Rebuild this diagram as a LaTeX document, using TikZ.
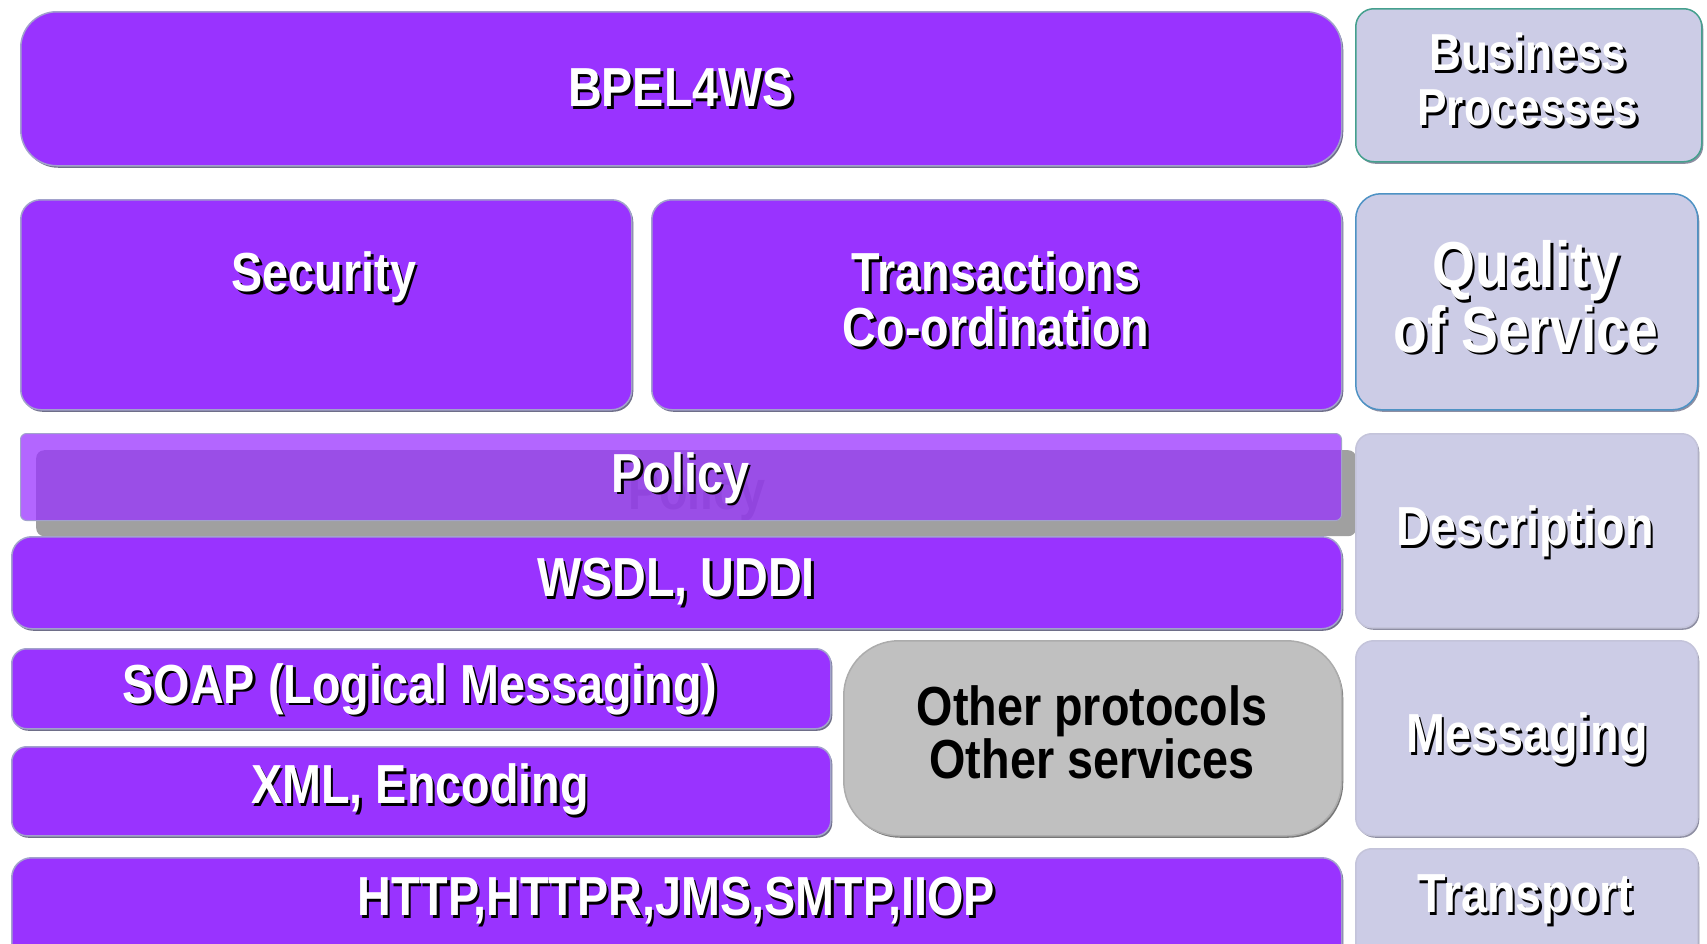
\documentclass[tikz,border=0pt]{standalone}
\usepackage{fontspec}
\newfontfamily\lblfont[FakeStretch=0.85]{Liberation Sans}
\usetikzlibrary{shadows}

\definecolor{wsviolet}{HTML}{9933FF}
\definecolor{wslav}{HTML}{CCCCE6}
\definecolor{wsgrey}{HTML}{C0C0C0}
\definecolor{wsedge}{HTML}{A2A2CC}
\definecolor{wsshade}{HTML}{6E6E88}
\definecolor{wslavedge}{HTML}{C4C4DA}
\definecolor{wslavshade}{HTML}{8E8EA2}
\definecolor{wsgreyedge}{HTML}{ACACAC}
\definecolor{wsgreyshade}{HTML}{767676}
\definecolor{wsteal}{HTML}{45A08E}
\definecolor{wsblue}{HTML}{4E92C4}
\definecolor{wsplate}{HTML}{A0A0A0}
\definecolor{wsghost}{HTML}{7C7C7C}

\tikzset{
  slab/.style={anchor=north west, inner sep=0pt, line width=1.5pt,
    draw=wsedge, fill=wsviolet,
    drop shadow={shadow xshift=1.5pt, shadow yshift=-2pt, fill=wsshade, opacity=1}},
  tagbox/.style={anchor=north west, inner sep=0pt, line width=1.5pt,
    draw=wslavedge, fill=wslav,
    drop shadow={shadow xshift=1.5pt, shadow yshift=-2pt, fill=wslavshade, opacity=1}},
  greybox/.style={anchor=north west, inner sep=0pt, line width=1.5pt,
    draw=wsgreyedge, fill=wsgrey,
    drop shadow={shadow xshift=1.5pt, shadow yshift=-2pt, fill=wsgreyshade, opacity=1}},
  word/.style={anchor=base, inner sep=0pt, text=white},
  wordshade/.style={anchor=base, inner sep=0pt, text=black, xshift=2.5pt, yshift=-2.5pt},
  darkword/.style={anchor=base, inner sep=0pt, text=black},
}

% white lettering with a black drop shadow: [size]{name}{position}{text}
\newcommand{\embossed}[4][55]{%
  \node[wordshade, font=\lblfont\bfseries\fontsize{#1}{#1}\selectfont] at (#3) {#4};
  \node[word, font=\lblfont\bfseries\fontsize{#1}{#1}\selectfont] (#2) at (#3) {#4};}

\begin{document}
\begin{tikzpicture}[x=1pt, y=-1pt]
\useasboundingbox (0,0) rectangle (1707,943);
\clip (0,0) rectangle (1707,943);

% ---- left-hand stack ----
\node[slab, rounded corners=36pt, minimum width=1321pt, minimum height=154pt] (bpelbox) at (20,11) {};
\node[slab, rounded corners=20pt, minimum width=611pt, minimum height=210pt] (secbox) at (20,199) {};
\node[slab, rounded corners=20pt, minimum width=690pt, minimum height=210pt] (txbox) at (651,199) {};

% policy layer: grey plate under a translucent violet strip
\node[anchor=north west, inner sep=0pt, fill=wsplate, rounded corners=8pt,
      minimum width=1320pt, minimum height=86pt] (policyplate) at (36,450) {};
\node[anchor=base, inner sep=0pt, text=wsghost, font=\lblfont\bfseries\fontsize{55}{55}\selectfont]
      (policyghost) at (697,509) {Policy};
\node[anchor=north west, inner sep=0pt, fill=wsviolet, fill opacity=0.75,
      draw=wsedge, line width=1pt, rounded corners=6pt,
      minimum width=1321pt, minimum height=87pt] (policybox) at (20,433) {};

\node[slab, rounded corners=20pt, minimum width=1330pt, minimum height=92pt] (wsdlbox) at (11,536) {};
\node[slab, rounded corners=15pt, minimum width=819pt, minimum height=80pt] (soapbox) at (11,648) {};
\node[slab, rounded corners=15pt, minimum width=819pt, minimum height=89pt] (xmlbox) at (11,746) {};
\node[greybox, rounded corners=55pt, minimum width=498pt, minimum height=195pt] (otherbox) at (843,640) {};
\node[slab, rounded corners=20pt, minimum width=1330pt, minimum height=120pt] (httpbox) at (11,857) {};

% ---- right-hand column ----
\node[tagbox, draw=wsteal, rounded corners=18pt, minimum width=346pt, minimum height=153pt] (bpbox) at (1355,8) {};
\node[tagbox, draw=wsblue, rounded corners=25pt, minimum width=342pt, minimum height=216pt] (qosbox) at (1355,193) {};
\node[tagbox, rounded corners=16pt, minimum width=342pt, minimum height=194pt] (descbox) at (1355,433) {};
\node[tagbox, rounded corners=18pt, minimum width=342pt, minimum height=195pt] (msgbox) at (1355,640) {};
\node[tagbox, rounded corners=16pt, minimum width=342pt, minimum height=120pt] (transbox) at (1355,848) {};

% ---- lettering ----
\embossed{bpeltxt}{681,106.7}{BPEL4WS}
\embossed{sectxt}{324,291.7}{Security}
\embossed{txtxta}{996,291.7}{Transactions}
\embossed{txtxtb}{996,346.7}{Co-ordination}
\embossed{policytxt}{680.5,492.2}{Policy}
\embossed{wsdltxt}{676,596.7}{WSDL, UDDI}
\embossed{soaptxt}{420,703.4}{SOAP (Logical Messaging)}
\embossed{xmltxt}{420,803.7}{XML, Encoding}
\embossed{httptxt}{676,915.7}{HTTP,HTTPR,JMS,SMTP,IIOP}

\node[darkword, font=\lblfont\bfseries\fontsize{55}{55}\selectfont] (othertxta) at (1092,725.2) {Other protocols};
\node[darkword, font=\lblfont\bfseries\fontsize{55}{55}\selectfont] (othertxtb) at (1092,778.7) {Other services};

\embossed[52]{bptxta}{1528,70.6}{Business}
\embossed[52]{bptxtb}{1528,125.6}{Processes}
\embossed[65]{qostxta}{1526,287.8}{Quality}
\embossed[65]{qostxtb}{1526,352.3}{of Service}
\embossed{desctxt}{1525,545.7}{Description}
\embossed{msgtxt}{1527,752.7}{Messaging}
\embossed{transtxt}{1525,912.7}{Transport}
\end{tikzpicture}
\end{document}
